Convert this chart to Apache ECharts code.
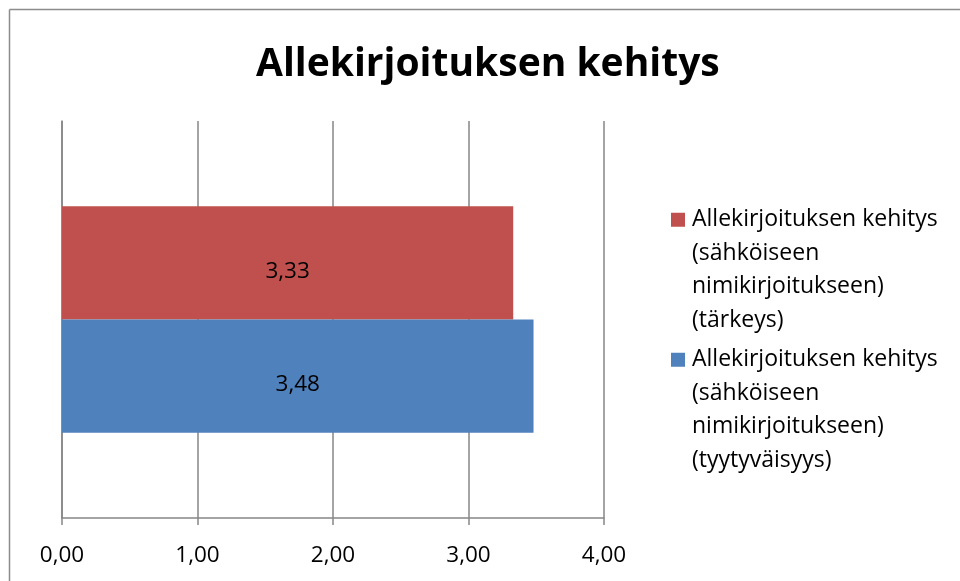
<!DOCTYPE html>
<html>
<head>
<meta charset="utf-8">
<script src="https://cdn.jsdelivr.net/npm/echarts@6/dist/echarts.min.js"></script>
<style>
html,body{margin:0;padding:0;background:#fff;}
#chart{width:960px;height:581px;}
</style>
</head>
<body>
<div id="chart"></div>
<script>
var titleText = 'Allekirjoituksen kehitys';
var categories = [''];
var seriesNames = [
  'Allekirjoituksen kehitys (sähköiseen nimikirjoitukseen) (tärkeys)',
  'Allekirjoituksen kehitys (sähköiseen nimikirjoitukseen) (tyytyväisyys)'
];
var legendLines = {
  'Allekirjoituksen kehitys (sähköiseen nimikirjoitukseen) (tärkeys)':
    ['Allekirjoituksen kehitys', '(sähköiseen', 'nimikirjoitukseen)', '(tärkeys)'],
  'Allekirjoituksen kehitys (sähköiseen nimikirjoitukseen) (tyytyväisyys)':
    ['Allekirjoituksen kehitys', '(sähköiseen', 'nimikirjoitukseen)', '(tyytyväisyys)']
};
var tarkeysValues = [3.33];
var tyytyvaisyysValues = [3.48];
var xTicks = [0, 1, 2, 3, 4];

var FONT = '"Open Sans", Lato, sans-serif';
var chart = echarts.init(document.getElementById('chart'), null, {renderer: 'canvas'});

function fmt(v) { return Number(v).toFixed(2).replace('.', ','); }

var option = {
  backgroundColor: '#ffffff',
  animation: false,
  title: {
    text: titleText,
    left: 251,
    top: 40,
    textStyle: {fontFamily: FONT, fontWeight: 'bold', fontSize: 39, color: '#000'}
  },
  graphic: [
    {type: 'line', shape: {x1: 9.5, y1: 9.5, x2: 960, y2: 9.5}, style: {stroke: '#8c8c8c', lineWidth: 1.5}},
    {type: 'line', shape: {x1: 9.5, y1: 9.5, x2: 9.5, y2: 581}, style: {stroke: '#8c8c8c', lineWidth: 1.5}}
  ],
  legend: {
    orient: 'vertical',
    left: 661,
    top: 198,
    itemWidth: 0,
    itemHeight: 0,
    itemGap: 6,
    icon: 'rect',
    data: [seriesNames[0], seriesNames[1]],
    selectedMode: false,
    formatter: function (name) {
      var lines = legendLines[name];
      var sq = name === seriesNames[0] ? '{sqR|}' : '{sqB|}';
      var out = sq + '{g|}{t|' + lines[0] + '}';
      for (var i = 1; i < lines.length; i++) {
        out += '\n{pad|}{t|' + lines[i] + '}';
      }
      return out;
    },
    textStyle: {
      fontFamily: FONT,
      fontSize: 23,
      color: '#000',
      lineHeight: 33.5,
      rich: {
        t: {fontFamily: FONT, fontSize: 23, color: '#000', lineHeight: 33.5},
        sqR: {backgroundColor: '#C0504D', width: 14, height: 14},
        sqB: {backgroundColor: '#4F81BD', width: 14, height: 14},
        g: {width: 7, height: 14},
        pad: {width: 21, height: 14}
      }
    }
  },
  grid: {left: 62, right: 356, top: 121, bottom: 63, containLabel: false},
  xAxis: {
    type: 'value',
    min: 0,
    max: 4,
    interval: 1,
    axisLine: {show: true, lineStyle: {color: '#868686', width: 1.5}},
    axisTick: {show: true, length: 7, lineStyle: {color: '#868686', width: 1.5}},
    splitLine: {show: true, lineStyle: {color: '#868686', width: 1.5}},
    axisLabel: {
      margin: 26,
      fontFamily: FONT,
      fontSize: 22.5,
      color: '#000',
      formatter: function (v) { return fmt(v); }
    }
  },
  yAxis: {
    type: 'category',
    data: categories,
    axisLine: {show: true, lineStyle: {color: '#868686', width: 1.5}},
    axisTick: {show: false},
    axisLabel: {show: false}
  },
  series: [
    {
      name: seriesNames[0],
      type: 'bar',
      data: tarkeysValues,
      barCategoryGap: '43%',
      barGap: '0%',
      itemStyle: {color: '#C0504D'},
      label: {show: true, position: 'inside', offset: [0, 9], fontFamily: FONT, fontSize: 22.5, color: '#000',
        formatter: function (p) { return fmt(p.value); }}
    },
    {
      name: seriesNames[1],
      type: 'bar',
      data: tyytyvaisyysValues,
      barCategoryGap: '43%',
      barGap: '0%',
      itemStyle: {color: '#4F81BD'},
      label: {show: true, position: 'inside', offset: [0, 9], fontFamily: FONT, fontSize: 22.5, color: '#000',
        formatter: function (p) { return fmt(p.value); }}
    }
  ]
};
chart.setOption(option);
</script>
</body>
</html>
